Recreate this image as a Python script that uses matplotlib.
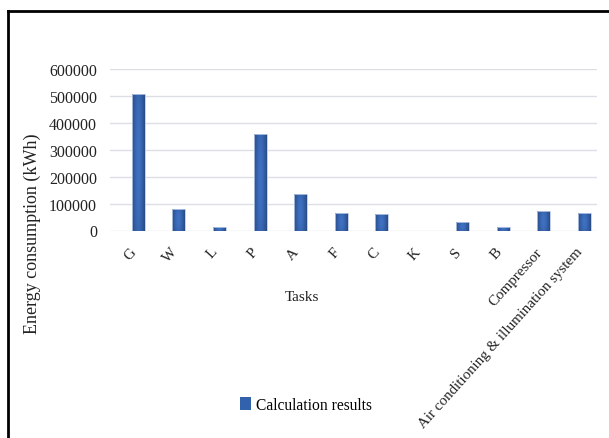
import numpy as np
import matplotlib.pyplot as plt
from matplotlib.lines import Line2D
from matplotlib.patches import Patch
from matplotlib.colors import LinearSegmentedColormap
import matplotlib.transforms as mtrans

# energy use per task (kWh)
tasks = ['G', 'W', 'L', 'P', 'A', 'F', 'C', 'K', 'S', 'B', 'Compressor',
         'Air conditioning & illumination system']
energy = [508000, 79000, 14000, 361000, 135000, 66000, 63000, 0, 30000, 13000,
          71000, 66000]
yticks = [0, 100000, 200000, 300000, 400000, 500000, 600000]

plt.rcParams['font.family'] = ['Liberation Serif', 'DejaVu Serif']

fig = plt.figure(figsize=(6.09, 4.39), dpi=100)
ax = fig.add_axes([110 / 609, 1 - 231.5 / 439, 487 / 609, 161.2 / 439])

# bar shading: darker edges, lighter middle
cmap = LinearSegmentedColormap.from_list('bar', ['#284b83', '#3f71c4'])
u = np.linspace(-1, 1, 40)
shade = 1 - np.abs(u)[None, :] ** 1.6
width = 0.32
x = np.arange(len(tasks))
for xi, h in zip(x, energy):
    if h <= 0:
        continue
    v = np.linspace(-1, 1, 60)[:, None]
    img = shade * (1 - 0.25 * np.abs(v) ** 2)
    ax.imshow(img, extent=[xi - width / 2, xi + width / 2, 0, h],
              aspect='auto', cmap=cmap, vmin=0, vmax=1, zorder=3,
              interpolation='bilinear')
ax.bar(x, energy, width=width, facecolor='none', edgecolor='#b8c8e4',
       linewidth=0.6, zorder=4)

ax.set_xlim(-0.70, 11.31)
ax.set_ylim(0, 600000)
ax.set_yticks(yticks)
ax.set_yticklabels([str(t) for t in yticks], fontsize=11.5, color='#222222')
ax.yaxis.grid(True, color='#dcdfe6', linewidth=1.0, zorder=0)
ax.set_axisbelow(True)
for s in ax.spines.values():
    s.set_visible(False)
ax.tick_params(axis='both', length=0)
ax.tick_params(axis='y', pad=9.4)

ax.set_xticks(x)
ax.set_xticklabels(tasks, rotation=48, ha='right', va='center',
                   rotation_mode='anchor', fontsize=10.8, color='#222222')
ax.tick_params(axis='x', pad=13.5)
offset = mtrans.ScaledTranslation(-4 / 100, 0, fig.dpi_scale_trans)
for lbl in ax.get_xticklabels():
    lbl.set_transform(lbl.get_transform() + offset)

fig.text(302 / 609, 1 - 298 / 439, 'Tasks', ha='center', va='center',
         fontsize=11, color='#222222')
fig.text(32 / 609, 1 - 234 / 439, 'Energy consumption (kWh)', rotation=90,
         ha='center', va='center', fontsize=13, color='#222222')

handle = Patch(facecolor='#3362ad', edgecolor='none')
fig.legend([handle], ['Calculation results'], loc='center left',
           bbox_to_anchor=(240 / 609, 1 - 406 / 439), frameon=False,
           fontsize=11.2, handlelength=0.7, handleheight=0.9,
           handletextpad=0.3, borderpad=0, borderaxespad=0)

# frame lines along top and left
fig.add_artist(Line2D([7.5 / 609, 1], [1 - 12 / 439, 1 - 12 / 439],
                      transform=fig.transFigure, color='black', linewidth=2))
fig.add_artist(Line2D([7.5 / 609, 7.5 / 609], [0, 1 - 12 / 439],
                      transform=fig.transFigure, color='black', linewidth=2))

fig.savefig('out.png', dpi=100)
